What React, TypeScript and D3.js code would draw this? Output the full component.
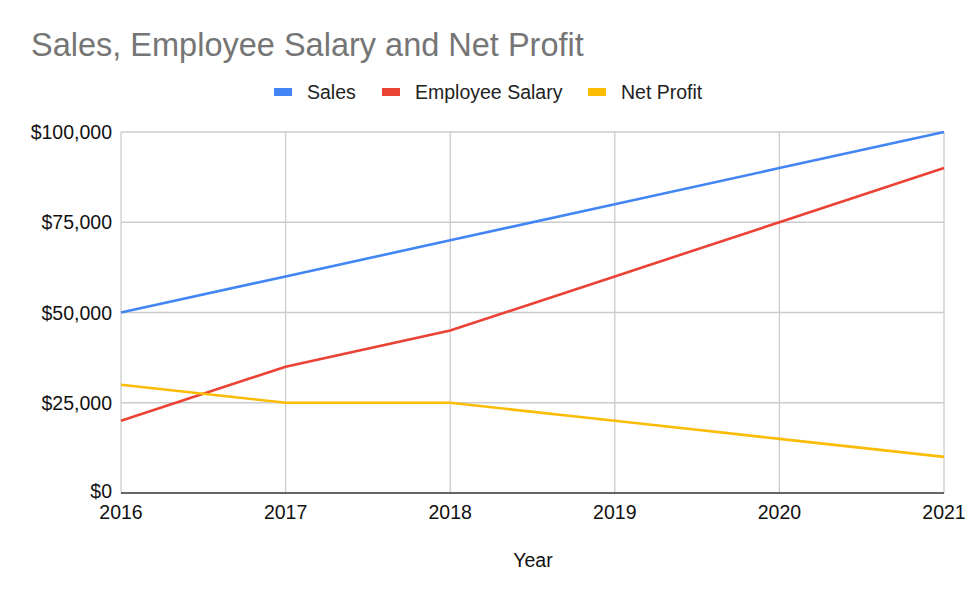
import React from 'react';
import * as d3 from 'd3';

const years = [2016, 2017, 2018, 2019, 2020, 2021];
const sales = [50000, 60000, 70000, 80000, 90000, 100000];
const salary = [20000, 35000, 45000, 60000, 75000, 90000];
const netProfit = [30000, 25000, 25000, 20000, 15000, 10000];
const yTicks = [0, 25000, 50000, 75000, 100000];

const seriesNames = ['Sales', 'Employee Salary', 'Net Profit'];
const seriesColors = ['#4285F4', '#EA4335', '#FBBC04'];

const width = 977;
const height = 602;
const margin = { left: 121, right: 33, top: 132, bottom: 109 };
const font = 'Arial, "Liberation Sans", sans-serif';

const App: React.FC = () => {
  const x = d3
    .scaleLinear()
    .domain([years[0], years[years.length - 1]])
    .range([margin.left, width - margin.right]);
  const y = d3
    .scaleLinear()
    .domain([0, 100000])
    .range([height - margin.bottom, margin.top]);

  const line = d3
    .line<number>()
    .x((_, i) => x(years[i]))
    .y((d) => y(d));

  const fmt = (v: number) => '$' + d3.format(',')(v);
  const series = [sales, salary, netProfit];

  // legend item starts (swatch left edge)
  const legendX = [274, 382, 588];

  return (
    <svg
      width={width}
      height={height}
      style={{ position: 'absolute', left: 0, top: 0, background: '#fff' }}
      fontFamily={font}
    >
      <text x={31} y={56} fontSize={32.5} fill="#757575">
        Sales, Employee Salary and Net Profit
      </text>

      {seriesNames.map((name, i) => (
        <g key={name} transform={`translate(${legendX[i]},92)`}>
          <rect x={0} y={-4} width={18} height={8} fill={seriesColors[i]} />
          <text x={33} y={7} fontSize={19.5} fill="#222">
            {name}
          </text>
        </g>
      ))}

      {/* grid */}
      {yTicks.map((t) => (
        <g key={t}>
          {t > 0 && (
            <line
              x1={margin.left}
              x2={width - margin.right}
              y1={y(t)}
              y2={y(t)}
              stroke="#cccccc"
              strokeWidth={1.3}
            />
          )}
          <text x={112} y={y(t) + (t === 0 ? 5 : 7)} fontSize={19.5} textAnchor="end" fill="#111">
            {fmt(t)}
          </text>
        </g>
      ))}
      {years.map((yr) => (
        <g key={yr}>
          <line
            x1={x(yr)}
            x2={x(yr)}
            y1={margin.top}
            y2={height - margin.bottom}
            stroke="#cccccc"
            strokeWidth={1.3}
          />
          <text x={x(yr)} y={height - margin.bottom + 26} fontSize={19.5} textAnchor="middle" fill="#111">
            {yr}
          </text>
        </g>
      ))}
      <line
        x1={margin.left}
        x2={width - margin.right}
        y1={y(0)}
        y2={y(0)}
        stroke="#333"
        strokeWidth={1.5}
      />

      {series.map((s, i) => (
        <path
          key={seriesNames[i]}
          d={line(s) || ''}
          fill="none"
          stroke={seriesColors[i]}
          strokeWidth={2.6}
        />
      ))}

      <text x={533} y={567} fontSize={19.5} textAnchor="middle" fill="#111">
        Year
      </text>
    </svg>
  );
};

export default App;
